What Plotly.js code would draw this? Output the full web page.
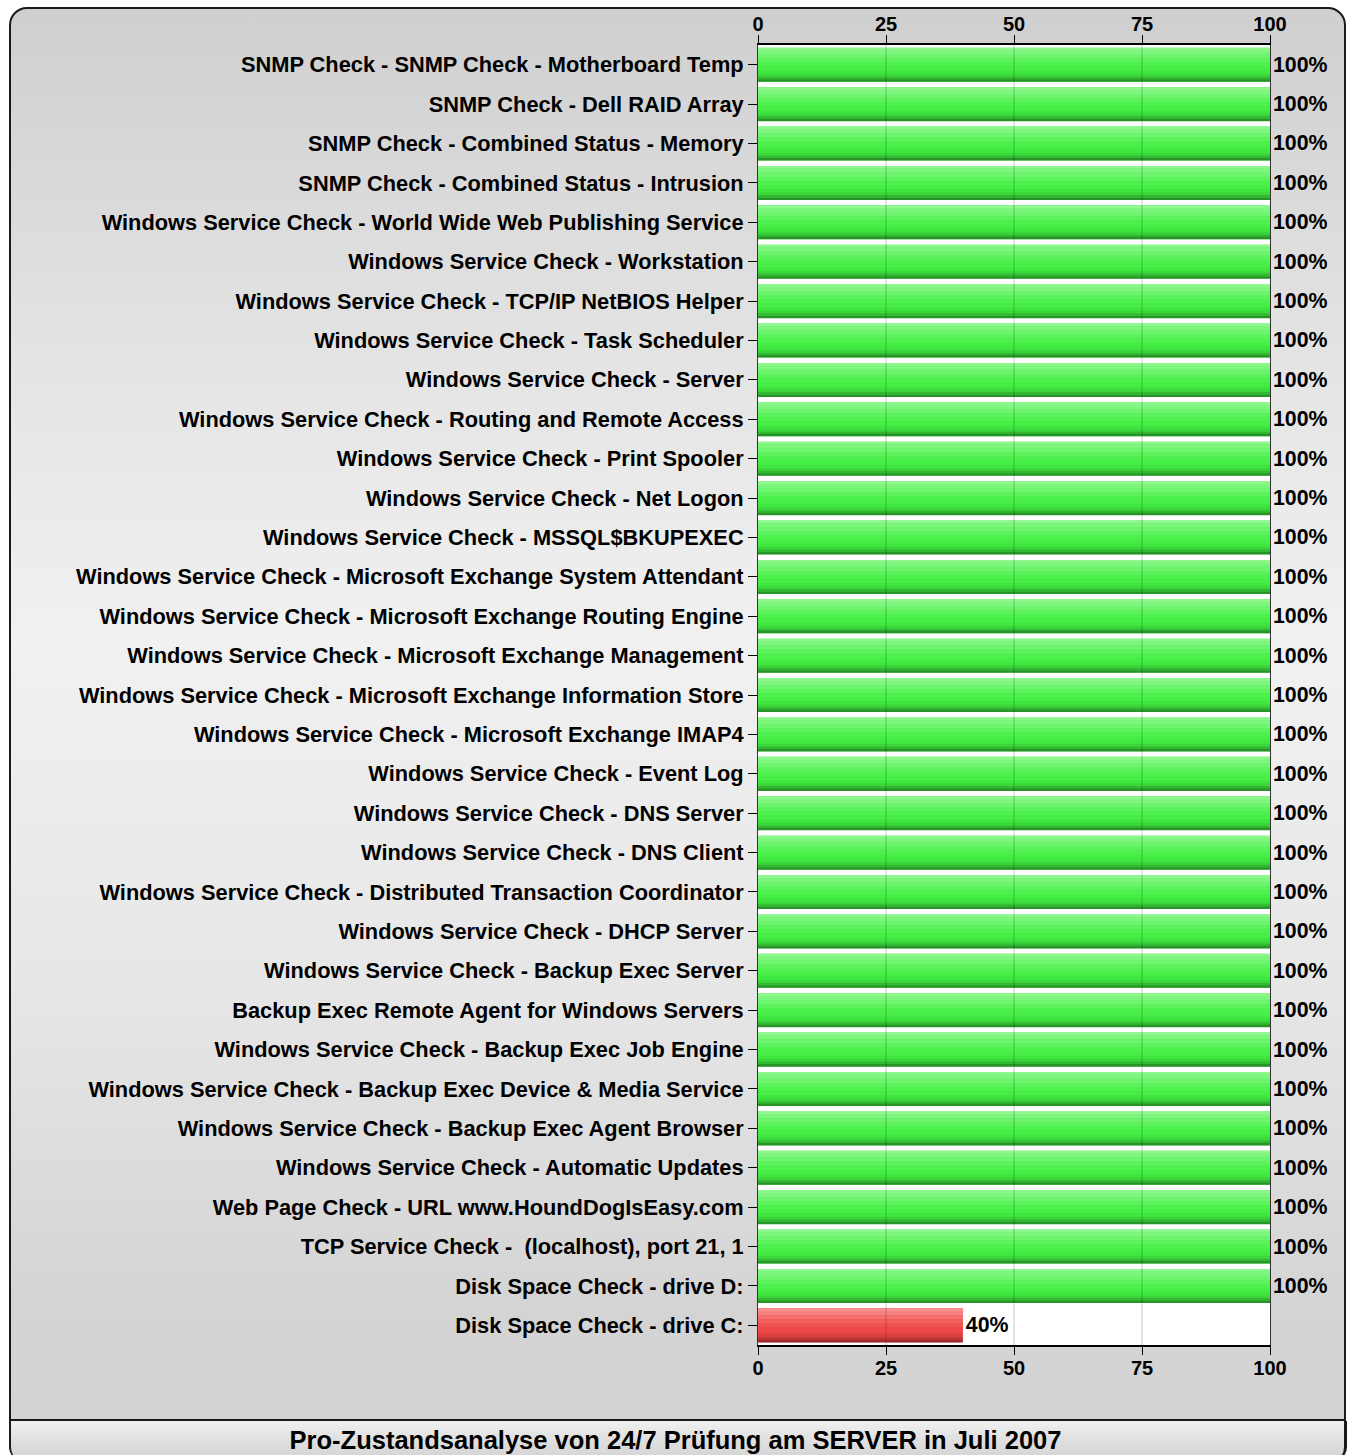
<!DOCTYPE html>
<html>
<head>
<meta charset="utf-8">
<script src="https://cdn.plot.ly/plotly-3.0.1.min.js"></script>
<style>
  body { margin: 0; background: #ffffff; }
  #wrap { position: relative; width: 1351px; height: 1455px; overflow: hidden; }
  #frame {
    position: absolute; left: 9px; top: 7px; width: 1333px; height: 1410px;
    border: 2px solid #1a1a1a; border-radius: 18px 18px 0 0;
    background: linear-gradient(to bottom, #cfcfcf 0%, #e4e4e4 25%, #f1f1f1 45%, #e6e6e6 70%, #d4d4d4 92%, #d3d3d3 100%);
  }
  #bar {
    position: absolute; left: 9px; top: 1421px; width: 1333px; height: 40px;
    border-left: 2px solid #1a1a1a; border-right: 3px solid #1a1a1a;
    border-radius: 0 0 14px 14px;
    background: linear-gradient(to bottom, #f0f0f0 0%, #e2e2e2 40%, #d2d2d2 100%);
  }
  #chart { position: absolute; left: 0; top: 0; width: 1351px; height: 1455px; }
</style>
</head>
<body>
<div id="wrap">
  <div id="frame"></div>
  <div id="bar"></div>
  <div id="chart"></div>
</div>
<script>
// checks, top to bottom
const checks = [
    "SNMP Check - SNMP Check - Motherboard Temp",
    "SNMP Check - Dell RAID Array",
    "SNMP Check - Combined Status - Memory",
    "SNMP Check - Combined Status - Intrusion",
    "Windows Service Check - World Wide Web Publishing Service",
    "Windows Service Check - Workstation",
    "Windows Service Check - TCP/IP NetBIOS Helper",
    "Windows Service Check - Task Scheduler",
    "Windows Service Check - Server",
    "Windows Service Check - Routing and Remote Access",
    "Windows Service Check - Print Spooler",
    "Windows Service Check - Net Logon",
    "Windows Service Check - MSSQL$BKUPEXEC",
    "Windows Service Check - Microsoft Exchange System Attendant",
    "Windows Service Check - Microsoft Exchange Routing Engine",
    "Windows Service Check - Microsoft Exchange Management",
    "Windows Service Check - Microsoft Exchange Information Store",
    "Windows Service Check - Microsoft Exchange IMAP4",
    "Windows Service Check - Event Log",
    "Windows Service Check - DNS Server",
    "Windows Service Check - DNS Client",
    "Windows Service Check - Distributed Transaction Coordinator",
    "Windows Service Check - DHCP Server",
    "Windows Service Check - Backup Exec Server",
    "Backup Exec Remote Agent for Windows Servers",
    "Windows Service Check - Backup Exec Job Engine",
    "Windows Service Check - Backup Exec Device & Media Service",
    "Windows Service Check - Backup Exec Agent Browser",
    "Windows Service Check - Automatic Updates",
    "Web Page Check - URL www.HoundDogIsEasy.com",
    "TCP Service Check -  (localhost), port 21, 1",
    "Disk Space Check - drive D:",
    "Disk Space Check - drive C:"
];

// percentage of time OK
const uptime = [
    100, 100, 100, 100, 100, 100, 100, 100, 100, 100,
    100, 100, 100, 100, 100, 100, 100, 100, 100, 100,
    100, 100, 100, 100, 100, 100, 100, 100, 100, 100,
    100, 100, 40
];

const xTicks = [0, 25, 50, 75, 100];
const chartTitle = "Pro-Zustandsanalyse von 24/7 Prüfung am SERVER in Juli 2007";

const FONT = "Liberation Sans, Arial, sans-serif";

// glossy look: bands from top (0) to bottom (1) of each bar
const BAR_W = 0.86;
const bands = [
    [0.00, 0.08, "#8ef88e", "#f89090"],
    [0.08, 0.20, "#7ef67e", "#f68080"],
    [0.20, 0.32, "#6ef46e", "#f47070"],
    [0.32, 0.44, "#5cf25c", "#f26060"],
    [0.44, 0.56, "#4ef04e", "#f05252"],
    [0.56, 0.68, "#46ee46", "#ee4848"],
    [0.68, 0.78, "#40e640", "#e84444"],
    [0.78, 0.86, "#3ad63a", "#d83e3e"],
    [0.86, 0.93, "#32b832", "#c03636"],
    [0.93, 1.00, "#289428", "#a02e2e"]
];

let data = [];

// base bar carries the value labels
data.push({
    type: 'bar',
    orientation: 'h',
    x: uptime,
    y: checks,
    offset: -BAR_W / 2,
    width: BAR_W,
    marker: { color: uptime.map(v => v >= 100 ? "#46ee46" : "#ee4848"), line: { width: 0 } },
    text: uptime.map(v => v + '%'),
    textposition: 'outside',
    constraintext: 'none',
    cliponaxis: false,
    textfont: { family: FONT, size: 21.3, color: '#000', weight: 'bold' },
    hoverinfo: 'skip',
    showlegend: false
});

for (let i = 0; i < bands.length; i++) {
    let b = bands[i];
    data.push({
        type: 'bar',
        orientation: 'h',
        x: uptime,
        y: checks,
        offset: -BAR_W / 2 + b[0] * BAR_W,
        width: (b[1] - b[0]) * BAR_W + 0.004,
        marker: { color: uptime.map(v => v >= 100 ? b[2] : b[3]), line: { width: 0 } },
        xaxis: i === 0 ? 'x2' : 'x',
        hoverinfo: 'skip',
        showlegend: false
    });
}

// grid lines sit above the bars in the original
let shapes = [];
for (let i = 1; i < xTicks.length - 1; i++) {
    shapes.push({
        type: 'line', xref: 'x', yref: 'paper',
        x0: xTicks[i], x1: xTicks[i], y0: 0, y1: 1,
        line: { color: 'rgba(0,0,0,0.22)', width: 1 },
        layer: 'above'
    });
}

const axisFont = { family: FONT, size: 20, color: '#000', weight: 'bold' };

let layout = {
    width: 1351,
    height: 1455,
    margin: { l: 758, r: 81, t: 45, b: 110 },
    paper_bgcolor: 'rgba(0,0,0,0)',
    plot_bgcolor: '#ffffff',
    barmode: 'overlay',
    showlegend: false,
    title: {
        text: chartTitle,
        font: { family: FONT, size: 25.5, color: '#000', weight: 'bold' },
        x: 0.5, xref: 'container',
        y: 15 / 1455, yref: 'container', yanchor: 'middle'
    },
    xaxis: {
        range: [0, 100],
        tickvals: xTicks,
        ticks: 'outside', ticklen: 8, tickcolor: '#000', tickwidth: 1,
        tickfont: axisFont,
        ticklabelstandoff: -4,
        showgrid: false,
        zeroline: false,
        showline: true, linecolor: '#000', linewidth: 2,
        side: 'bottom'
    },
    xaxis2: {
        range: [0, 100],
        overlaying: 'x',
        anchor: 'y',
        side: 'top',
        tickvals: xTicks,
        ticks: 'outside', ticklen: 8, tickcolor: '#000', tickwidth: 1,
        tickfont: axisFont,
        ticklabelstandoff: -4,
        showgrid: false,
        zeroline: false,
        showline: true, linecolor: '#000', linewidth: 2
    },
    yaxis: {
        type: 'category',
        autorange: 'reversed',
        ticks: 'outside', ticklen: 9, tickcolor: '#000', tickwidth: 1,
        tickfont: { family: FONT, size: 21.8, color: '#000', weight: 'bold' },
        ticklabelstandoff: 0,
        showgrid: false,
        showline: true, linecolor: '#333', linewidth: 1,
        mirror: true
    },
    shapes: shapes
};

Plotly.newPlot('chart', data, layout, { displayModeBar: false, staticPlot: true });
</script>
</body>
</html>
